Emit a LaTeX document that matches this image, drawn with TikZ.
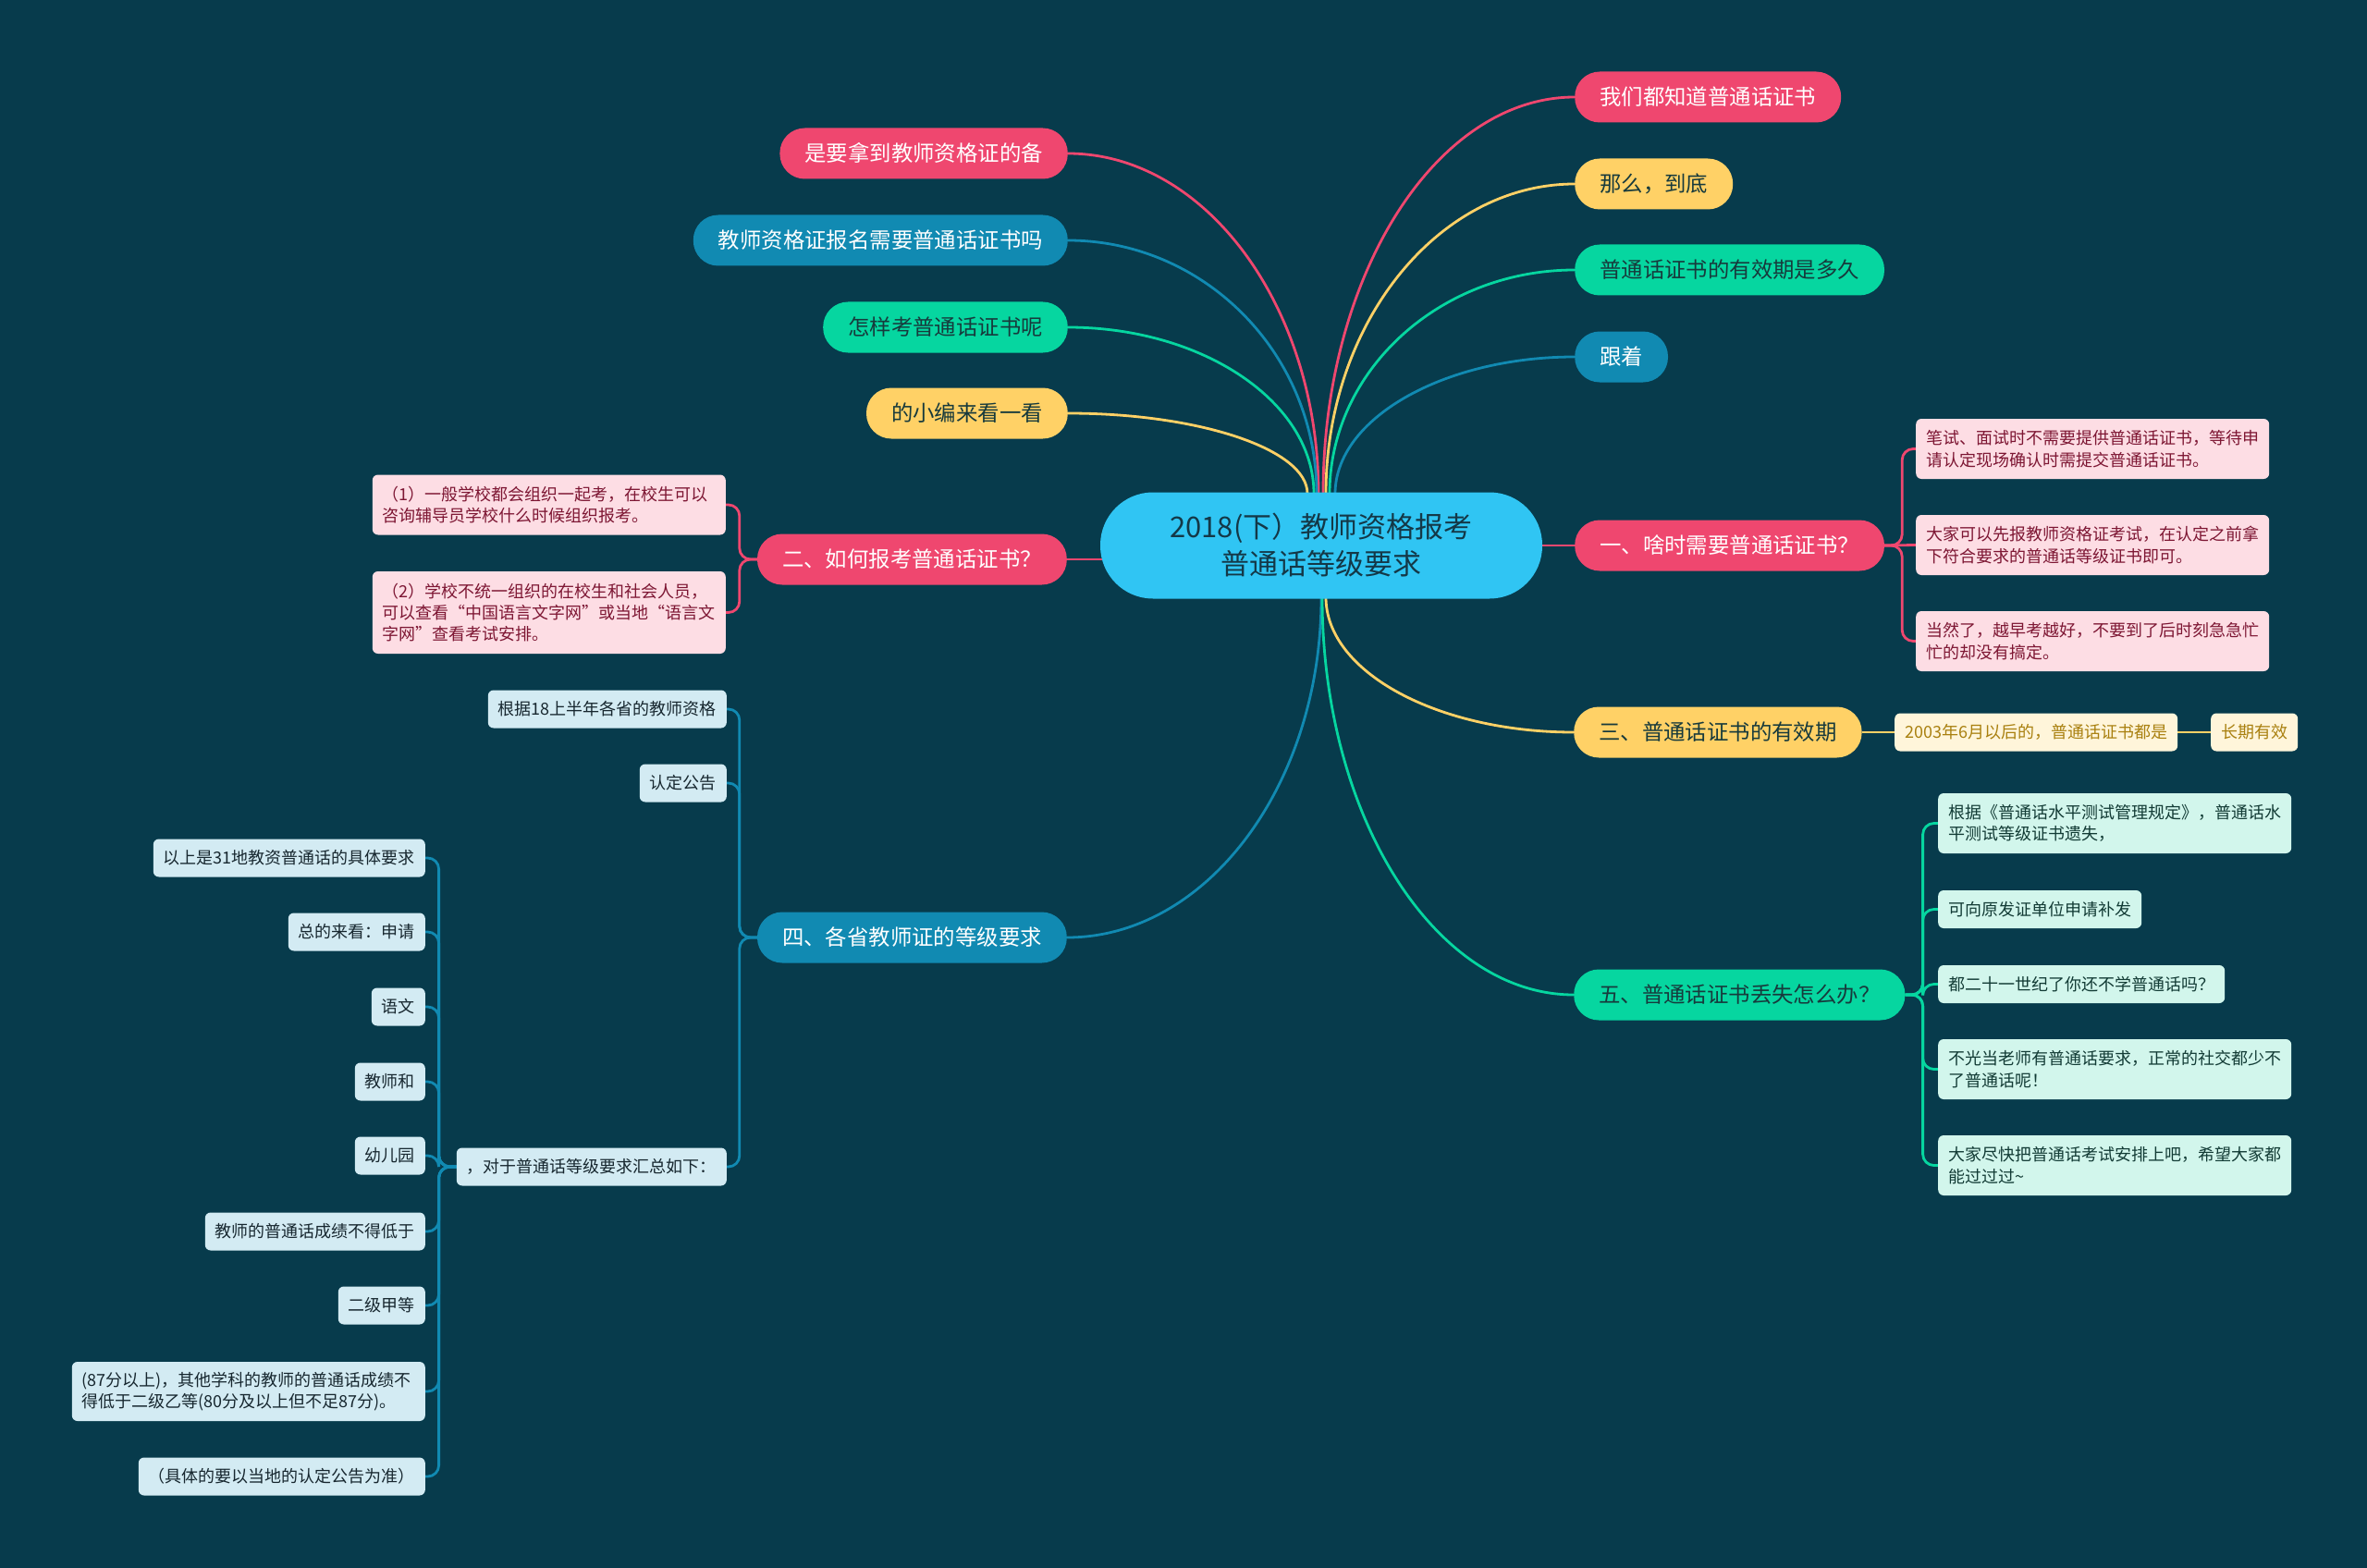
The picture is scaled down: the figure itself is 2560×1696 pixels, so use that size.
\documentclass[tikz,border=0pt]{standalone}
\usepackage{fontspec}
\setmainfont{Noto Sans CJK SC}
\pgfdeclarelayer{back}
\pgfdeclarelayer{bg}
\pgfsetlayers{back,bg,main}
\definecolor{bgc}{HTML}{073B4C}
\definecolor{cpink}{HTML}{EF476F}
\definecolor{cyel}{HTML}{FFD166}
\definecolor{cgrn}{HTML}{06D6A0}
\definecolor{cblu}{HTML}{118AB2}
\definecolor{croot}{HTML}{30C5F3}
\definecolor{roottxt}{HTML}{143847}
\definecolor{darktxt}{HTML}{173A3C}
\definecolor{pinkfill}{HTML}{FDDDE4}
\definecolor{pinktxt}{HTML}{7D1633}
\definecolor{grnfill}{HTML}{D2F6EC}
\definecolor{grntxt}{HTML}{123B35}
\definecolor{blufill}{HTML}{D3EBF3}
\definecolor{blutxt}{HTML}{17272F}
\definecolor{yelfill}{HTML}{FFF5DA}
\definecolor{yeltxt}{HTML}{A9800F}
\tikzset{
  rootbox/.style={rounded corners=57pt, minimum height=115pt, minimum width=478pt,
    fill=croot, text=roottxt, align=center, inner sep=0pt,
    font=\fontsize{31}{40}\selectfont},
  pill/.style={rounded corners=27pt, minimum height=55pt, inner xsep=27pt, inner ysep=0pt,
    font=\fontsize{23.4}{28}\selectfont, text height=20.2pt, text depth=2.4pt},
  ppink/.style={pill, fill=cpink, text=white},
  pblue/.style={pill, fill=cblu, text=white},
  pgreen/.style={pill, fill=cgrn, text=darktxt},
  pyellow/.style={pill, fill=cyel, text=darktxt},
  leafbox/.style={rounded corners=6pt, inner xsep=11pt, inner ysep=0pt, minimum height=41pt,
    font=\fontsize{18}{23.3}\selectfont},
  oneline/.style={text height=15.5pt, text depth=1.9pt},
  multiline/.style={text width=360pt, align=left},
  lpink/.style={leafbox, fill=pinkfill, text=pinktxt},
  lgreen/.style={leafbox, fill=grnfill, text=grntxt},
  lblue/.style={leafbox, fill=blufill, text=blutxt},
  lyellow/.style={leafbox, fill=yelfill, text=yeltxt},
  mainlink/.style={line width=2.8pt},
  elbow/.style={line width=2.8pt, rounded corners=12pt},
}
\begin{document}
\begin{tikzpicture}[x=1pt,y=-1pt]
\useasboundingbox (0,0) rectangle (2560,1696);
\begin{pgfonlayer}{back}
\fill[bgc] (0,0) rectangle (2560,1696);
\end{pgfonlayer}

% root
\node[rootbox] (root) at (1429,590) {2018(下）教师资格报考\\普通话等级要求};

% left upper
\node[ppink,anchor=east] (l1) at (1155,166) {是要拿到教师资格证的备};
\node[pblue,anchor=east] (l2) at (1155,260) {教师资格证报名需要普通话证书吗};
\node[pgreen,anchor=east] (l3) at (1155,354) {怎样考普通话证书呢};
\node[pyellow,anchor=east] (l4) at (1155,447) {的小编来看一看};

% right upper
\node[ppink,anchor=west] (r1) at (1703,105) {我们都知道普通话证书};
\node[pyellow,anchor=west] (r2) at (1703,199) {那么，到底};
\node[pgreen,anchor=west] (r3) at (1703,292) {普通话证书的有效期是多久};
\node[pblue,anchor=west] (r4) at (1703,386) {跟着};

% main sections
\node[ppink,anchor=west] (s1) at (1703,590) {一、啥时需要普通话证书？};
\node[ppink,anchor=east] (s2) at (1154,605) {二、如何报考普通话证书？};
\node[pyellow,anchor=west] (s3) at (1702,792) {三、普通话证书的有效期};
\node[pblue,anchor=east] (s4) at (1154,1014) {四、各省教师证的等级要求};
\node[pgreen,anchor=west] (s5) at (1702,1076) {五、普通话证书丢失怎么办？};

% section 1 children
\node[lpink,multiline,minimum height=65pt,anchor=west] (c1) at (2072,485.5) {笔试、面试时不需要提供普通话证书，等待申\\请认定现场确认时需提交普通话证书。};
\node[lpink,multiline,minimum height=65pt,anchor=west] (c2) at (2072,589.5) {大家可以先报教师资格证考试，在认定之前拿\\下符合要求的普通话等级证书即可。};
\node[lpink,multiline,minimum height=65pt,anchor=west] (c3) at (2072,693.5) {当然了，越早考越好，不要到了后时刻急急忙\\忙的却没有搞定。};

% section 2 children
\node[lpink,multiline,minimum height=65pt,anchor=east] (p1) at (785,546) {（1）一般学校都会组织一起考，在校生可以\\咨询辅导员学校什么时候组织报考。};
\node[lpink,multiline,minimum height=89pt,anchor=east] (p2) at (785,662.5) {（2）学校不统一组织的在校生和社会人员，\\可以查看“中国语言文字网”或当地“语言文\\字网”查看考试安排。};

% section 3 children
\node[lyellow,oneline,anchor=west] (y1) at (2049,792) {2003年6月以后的，普通话证书都是};
\node[lyellow,oneline,anchor=west] (y2) at (2391,792) {长期有效};

% section 5 children
\node[lgreen,multiline,minimum height=65pt,anchor=west] (g1) at (2096,890.5) {根据《普通话水平测试管理规定》，普通话水\\平测试等级证书遗失，};
\node[lgreen,oneline,anchor=west] (g2) at (2096,983.5) {可向原发证单位申请补发};
\node[lgreen,oneline,anchor=west] (g3) at (2096,1064.5) {都二十一世纪了你还不学普通话吗？};
\node[lgreen,multiline,minimum height=65pt,anchor=west] (g4) at (2096,1156.5) {不光当老师有普通话要求，正常的社交都少不\\了普通话呢！};
\node[lgreen,multiline,minimum height=65pt,anchor=west] (g5) at (2096,1260.5) {大家尽快把普通话考试安排上吧，希望大家都\\能过过过\textasciitilde};

% section 4 children
\node[lblue,oneline,anchor=east] (b1) at (786,767) {根据18上半年各省的教师资格};
\node[lblue,oneline,anchor=east] (b2) at (786,847) {认定公告};
\node[lblue,oneline,anchor=east] (b3) at (786,1262) {，对于普通话等级要求汇总如下：};

\node[lblue,oneline,anchor=east] (d1) at (460,928) {以上是31地教资普通话的具体要求};
\node[lblue,oneline,anchor=east] (d2) at (460,1008) {总的来看：申请};
\node[lblue,oneline,anchor=east] (d3) at (460,1089) {语文};
\node[lblue,oneline,anchor=east] (d4) at (460,1170) {教师和};
\node[lblue,oneline,anchor=east] (d5) at (460,1250) {幼儿园};
\node[lblue,oneline,anchor=east] (d6) at (460,1332) {教师的普通话成绩不得低于};
\node[lblue,oneline,anchor=east] (d7) at (460,1412) {二级甲等};
\node[lblue,multiline,minimum height=64pt,anchor=east] (d8) at (460,1505) {(87分以上)，其他学科的教师的普通话成绩不\\得低于二级乙等(80分及以上但不足87分)。};
\node[lblue,oneline,anchor=east] (d9) at (460,1597) {（具体的要以当地的认定公告为准）};

% attachment points on the root
\coordinate (tl1) at (1426,534);
\coordinate (tl2) at (1424,534);
\coordinate (tl3) at (1421,534);
\coordinate (tl4) at (1414,534);
\coordinate (tr1) at (1431,534);
\coordinate (tr2) at (1434,534);
\coordinate (tr3) at (1438,534);
\coordinate (tr4) at (1444,534);
\coordinate (bs3) at (1434,646);
\coordinate (bs4) at (1429,646);
\coordinate (bs5) at (1430,646);

\begin{pgfonlayer}{bg}
% main curves
\draw[mainlink,cpink] (l1.east) .. controls (1304,166) and (1426,332) .. (tl1);
\draw[mainlink,cblu]  (l2.east) .. controls (1303,260) and (1424,383) .. (tl2);
\draw[mainlink,cgrn]  (l3.east) .. controls (1301,354) and (1421,435) .. (tl3);
\draw[mainlink,cyel]  (l4.east) .. controls (1297,447) and (1414,486) .. (tl4);
\draw[mainlink,cpink] (r1.west) .. controls (1553,105) and (1431,298) .. (tr1);
\draw[mainlink,cyel]  (r2.west) .. controls (1555,199) and (1434,350) .. (tr2);
\draw[mainlink,cgrn]  (r3.west) .. controls (1557,292) and (1438,401) .. (tr3);
\draw[mainlink,cblu]  (r4.west) .. controls (1561,386) and (1444,453) .. (tr4);
\draw[mainlink,cpink] (root.center) -- (s1.west);
\draw[mainlink,cpink] (s2.east) -- ([xshift=30pt]s2.east -| root.west);
\draw[mainlink,cyel]  (s3.west) .. controls (1555,792) and (1434,727) .. (bs3);
\draw[mainlink,cblu]  (s4.east) .. controls (1305,1014) and (1429,849) .. (bs4);
\draw[mainlink,cgrn]  (s5.west) .. controls (1552,1076) and (1430,883) .. (bs5);

% section 1
\draw[elbow,cpink] (s1.east) -- ++(19,0) |- (c1.west);
\draw[elbow,cpink] (s1.east) -- (c2.west);
\draw[elbow,cpink] (s1.east) -- ++(19,0) |- (c3.west);
% section 2
\draw[elbow,cpink] (s2.west) -- ++(-19,0) |- (p1.east);
\draw[elbow,cpink] (s2.west) -- ++(-19,0) |- (p2.east);
% section 3
\draw[mainlink,cyel] (s3.east) -- (y1.west);
\draw[mainlink,cyel] (y1.east) -- (y2.west);
% section 5
\foreach \g in {g1,g2,g3,g4,g5}
  \draw[elbow,cgrn] (s5.east) -- ++(19,0) |- (\g.west);
% section 4
\foreach \b in {b1,b2,b3}
  \draw[elbow,cblu] (s4.west) -- ++(-19,0) |- (\b.east);
\foreach \d in {d1,d2,d3,d4,d5,d6,d7,d8,d9}
  \draw[elbow,cblu] (b3.west) -- ++(-19,0) |- (\d.east);
\end{pgfonlayer}
\end{tikzpicture}
\end{document}
